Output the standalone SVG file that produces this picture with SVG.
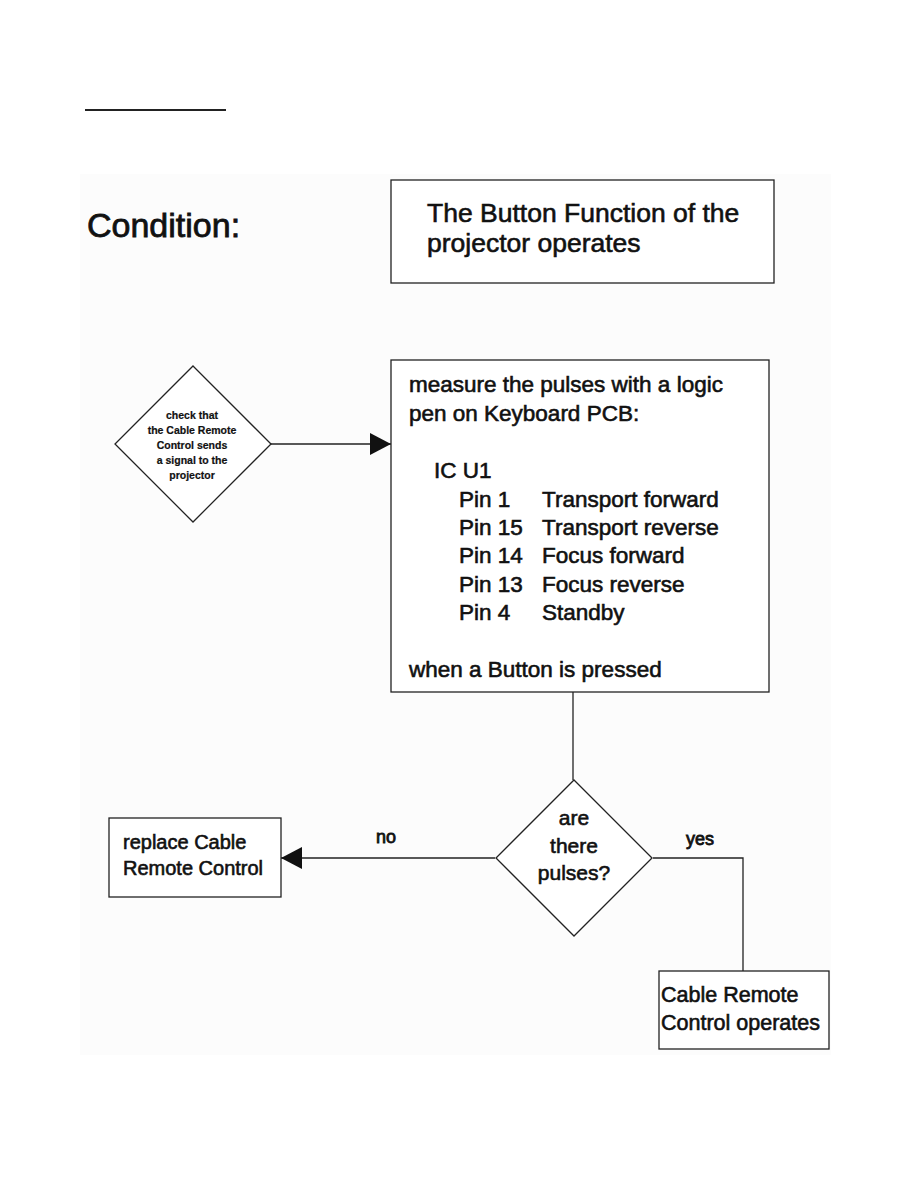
<svg xmlns="http://www.w3.org/2000/svg" width="918" height="1188" viewBox="0 0 918 1188">
<defs>
<style>
.t{font-family:"Liberation Sans",Arial,sans-serif;fill:#111;stroke:#111;stroke-width:0.6;}
.box{fill:#fff;stroke:#222;stroke-width:1.3;}
.ln{fill:none;stroke:#222;stroke-width:1.3;}
</style>
<marker id="ah" viewBox="0 0 21 22" refX="21" refY="11" markerWidth="21" markerHeight="22" markerUnits="userSpaceOnUse" orient="auto">
<path d="M0,0 L21,11 L0,22 Z" fill="#111"/>
</marker>
</defs>
<rect width="918" height="1188" fill="#fff"/>
<rect x="80" y="174" width="751" height="881" fill="#fcfcfc"/>
<line x1="85" y1="110" x2="226" y2="110" stroke="#222" stroke-width="2"/>
<text class="t" x="87" y="237" font-size="34" style="stroke-width:0.8">Condition:</text>

<g id="connectors">
<line class="ln" x1="271" y1="444" x2="391" y2="444" marker-end="url(#ah)"/>
<line class="ln" x1="573" y1="692" x2="573" y2="780"/>
<line class="ln" x1="495" y1="858" x2="281" y2="858" marker-end="url(#ah)"/>
<polyline class="ln" points="653,858 743,858 743,971"/>
<text class="t" x="376" y="843" font-size="18" style="stroke-width:0.8">no</text>
<text class="t" x="686" y="845" font-size="18" style="stroke-width:0.8">yes</text>
</g>

<g id="condition">
<rect class="box" x="391" y="180" width="383" height="103"/>
<text class="t" x="427" y="222" font-size="26.5">The Button Function of the</text>
<text class="t" x="427" y="252" font-size="26.5">projector operates</text>
</g>

<g id="check">
<polygon class="box" points="193,366 271,444 193,522 115,444"/>
<g class="t" font-size="10.5" font-weight="bold" text-anchor="middle" style="stroke-width:0.2">
<text x="192" y="419">check that</text>
<text x="192" y="434">the Cable Remote</text>
<text x="192" y="449">Control sends</text>
<text x="192" y="464">a signal to the</text>
<text x="192" y="479">projector</text>
</g>
</g>

<g id="measure">
<rect class="box" x="391" y="360" width="378" height="332"/>
<g class="t" font-size="22.5">
<text x="409" y="392">measure the pulses with a logic</text>
<text x="409" y="421">pen on Keyboard PCB:</text>
<text x="434" y="478">IC U1</text>
<text x="459" y="507">Pin 1</text>
<text x="542" y="507">Transport forward</text>
<text x="459" y="535">Pin 15</text>
<text x="542" y="535">Transport reverse</text>
<text x="459" y="563">Pin 14</text>
<text x="542" y="563">Focus forward</text>
<text x="459" y="592">Pin 13</text>
<text x="542" y="592">Focus reverse</text>
<text x="459" y="620">Pin 4</text>
<text x="542" y="620">Standby</text>
<text x="409" y="677">when a Button is pressed</text>
</g>
</g>

<g id="pulses">
<polygon class="box" points="574,780 652,858 574,936 496,858"/>
<g class="t" font-size="21" text-anchor="middle">
<text x="574" y="825">are</text>
<text x="574" y="853">there</text>
<text x="574" y="880">pulses?</text>
</g>
</g>

<g id="replace">
<rect class="box" x="109" y="818" width="172" height="79"/>
<text class="t" x="123" y="849" font-size="20">replace Cable</text>
<text class="t" x="123" y="875" font-size="20">Remote Control</text>
</g>

<g id="operates">
<rect class="box" x="659" y="971" width="170" height="78"/>
<text class="t" x="661" y="1002" font-size="21.5">Cable Remote</text>
<text class="t" x="661" y="1030" font-size="21.5">Control operates</text>
</g>
</svg>
